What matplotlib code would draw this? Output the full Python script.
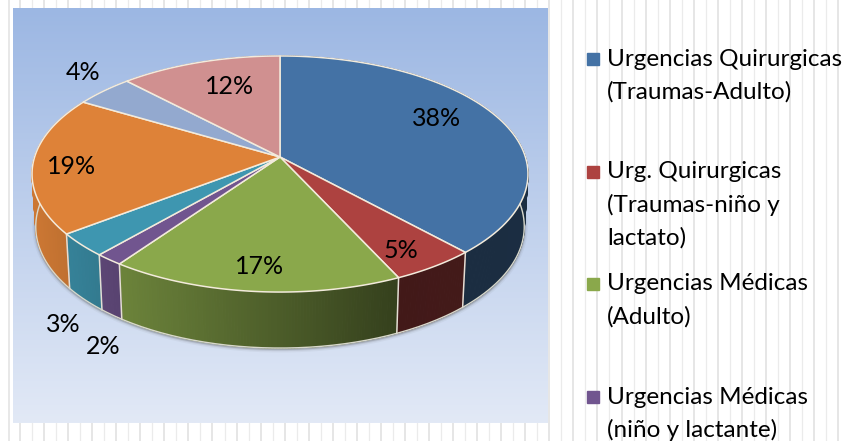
import matplotlib
matplotlib.use('Agg')
import matplotlib.pyplot as plt
import numpy as np

plt.rcParams['font.family'] = ['Lato', 'DejaVu Sans']

# shares estimated from the slice edges, clockwise from 12 o'clock
pct = [38.2, 4.9, 16.7, 1.6, 3.2, 18.9, 4.4, 12.1]
pct_labels = ['38%', '5%', '17%', '2%', '3%', '19%', '4%', '12%']
label_x = [437, 401, 260, 103, 63, 72, 83, 230]
label_y = [119, 251, 266, 346, 324, 167, 72, 87]
colors = ['#4472A5', '#AD4240', '#8AA84B', '#71558F', '#3E96B0', '#DE8238', '#93A9CF', '#D09090']

legend_lines = [
    ['Urgencias Quirurgicas', '(Traumas-Adulto)'],
    ['Urg. Quirurgicas', '(Traumas-niño y', 'lactato)'],
    ['Urgencias Médicas', '(Adulto)'],
    ['Urgencias Médicas', '(niño y lactante)'],
]
legend_y = [59, 172, 284, 397]

# pie geometry in pixels
cx, cy = 280, 157
b, a, k = 245.4, 115.6, 0.144


def top_xy(t):
    # t = clockwise angle from the top, with a perspective squeeze
    v = -np.cos(t)
    d = 1 - k * v
    return cx + b * np.sin(t) / d, cy + a * v / d


def bottom_xy(t):
    x, y = top_xy(t)
    v = -np.cos(t)
    return cx + 0.985 * (x - cx), y + 52 + 4 * v


def shade(x):
    # side wall gets darker to the right
    return np.interp(x, [31, 120, 280, 398, 528], [0.92, 0.78, 0.55, 0.38, 0.40])


fig = plt.figure(figsize=(8.46, 4.41), dpi=100)
ax = fig.add_axes([0, 0, 1, 1])
ax.set_xlim(0, 846)
ax.set_ylim(441, 0)
ax.axis('off')

# paper grid behind everything
ax.axvline(8.5, color='#E4E4E4', lw=1.2, zorder=0)
for i, gx in enumerate(np.arange(20, 846, 12.03)):
    ax.axvline(gx, color='#E2E2E2' if i % 2 == 0 else '#EBEBEB', lw=1.2 if i % 2 == 0 else 0.9, zorder=0)

# chart panel gradient
top_col = np.array(matplotlib.colors.to_rgb('#9CB7E3'))
bot_col = np.array(matplotlib.colors.to_rgb('#E2E9F6'))
g = np.linspace(0, 1, 256)[:, None, None]
ax.imshow(top_col * (1 - g) + bot_col * g, extent=[13, 548, 423, 8], aspect='auto', zorder=1)
ax.set_xlim(0, 846)
ax.set_ylim(441, 0)

edges = np.radians(np.cumsum([0] + pct) * 3.6)

# soft shadow under the wall
tt = np.linspace(np.radians(60), np.radians(300), 300)
sx, sy = bottom_xy(tt)
for lw, al in [(5, 0.06), (3, 0.12), (1.5, 0.25)]:
    ax.plot(sx, sy + 1, color='#555555', lw=lw, alpha=al, zorder=2)

# side walls, thin strips so the shading can run along the rim
for i in range(len(pct)):
    steps = np.linspace(edges[i], edges[i + 1], max(3, int(pct[i] * 6)))
    base = np.array(matplotlib.colors.to_rgb(colors[i]))
    for t0, t1 in zip(steps[:-1], steps[1:]):
        x0, y0 = top_xy(t0)
        x1, y1 = top_xy(t1)
        x2, y2 = bottom_xy(t1)
        x3, y3 = bottom_xy(t0)
        c = base * shade((x0 + x1) / 2)
        ax.fill([x0, x1, x2, x3], [y0, y1, y2, y3], facecolor=c, edgecolor=c, lw=0.8, zorder=3)

# wall dividers and lower rim
for t in edges:
    if np.cos(t) < 0.1:
        x0, y0 = top_xy(t)
        x1, y1 = bottom_xy(t)
        ax.plot([x0, x1], [y0, y1], color='#E4DDD4', lw=1.1, zorder=4)
ax.plot(sx, sy, color='#D8D8CC', lw=1.0, zorder=4)

# top face
for i in range(len(pct)):
    tt = np.linspace(edges[i], edges[i + 1], 80)
    x, y = top_xy(tt)
    ax.fill(np.r_[cx, x], np.r_[cy, y], facecolor=colors[i], edgecolor='#F3EBDC', lw=1.1, joinstyle='round', zorder=5)

for s, lx, ly in zip(pct_labels, label_x, label_y):
    ax.text(lx, ly, s, fontsize=18, color='black', ha='center', va='center', zorder=6)

# legend, last entries run off the bottom like the original
for i, (lines, ly) in enumerate(zip(legend_lines, legend_y)):
    ax.fill([587, 599, 599, 587], [ly - 6, ly - 6, ly + 6, ly + 6], color=colors[i], zorder=6)
    for j, s in enumerate(lines):
        ax.text(607, ly + j * 33, s, fontsize=17.5, color='black', ha='left', va='center', zorder=6)

fig.savefig('out.png', dpi=100)
